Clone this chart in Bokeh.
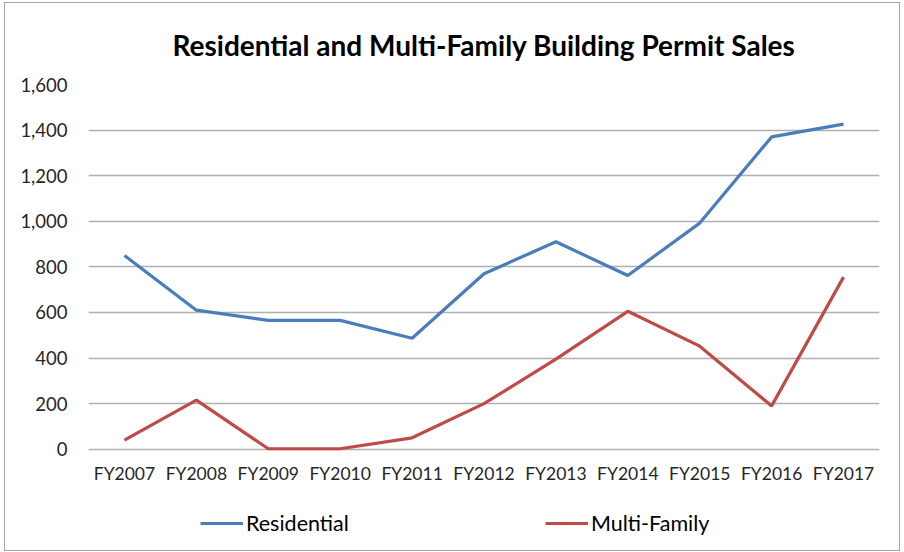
from bokeh.plotting import figure
from bokeh.models import Range1d, Legend, LegendItem, NumeralTickFormatter
from bokeh.embed import file_html
from bokeh.resources import INLINE

categories = ["FY2007", "FY2008", "FY2009", "FY2010", "FY2011", "FY2012",
              "FY2013", "FY2014", "FY2015", "FY2016", "FY2017"]
residential = [850, 610, 565, 565, 487, 770, 910, 762, 992, 1370, 1426]
multi_family = [40, 215, 2, 2, 50, 200, 395, 605, 452, 190, 755]
y_ticks = [0, 200, 400, 600, 800, 1000, 1200, 1400, 1600]

FONT = "Lato"

# the frame reaches down into the legend area; the value axis starts at 0
p = figure(x_range=categories, y_range=Range1d(-440, 1600),
           width=894, height=547, output_backend="svg", toolbar_location=None,
           min_border_left=83, min_border_right=22, min_border_top=80,
           min_border_bottom=3,
           title="Residential and Multi-Family Building Permit Sales")
p.styles = {"border": "1px solid #a6a6a6", "box-sizing": "content-box",
            "margin-left": "4px", "margin-top": "2px"}

p.title.text_font = FONT
p.title.text_font_size = "28px"
p.title.text_font_style = "bold"
p.title.text_color = "#000000"
p.title.align = "center"
p.title.standoff = 45

p.outline_line_color = None
p.xgrid.grid_line_color = None
p.ygrid.grid_line_color = "#b0b0b0"
p.ygrid.grid_line_width = 1.3
p.yaxis.ticker = y_ticks
p.yaxis.formatter = NumeralTickFormatter(format="0,0")

for ax in (p.xaxis, p.yaxis):
    ax.axis_line_color = None
    ax.major_tick_line_color = None
    ax.minor_tick_line_color = None
    ax.major_label_text_font = FONT
    ax.major_label_text_color = "#262626"
p.xaxis.major_label_text_font_size = "17.5px"
p.yaxis.major_label_text_font_size = "18.5px"
p.yaxis.major_label_standoff = 15
p.xaxis.major_label_standoff = -93

r1 = p.line(categories, residential, line_color="#4a7ebb", line_width=3.2)
r2 = p.line(categories, multi_family, line_color="#be4b48", line_width=3.2)

legend = Legend(items=[LegendItem(label="Residential", renderers=[r1]),
                       LegendItem(label="Multi-Family", renderers=[r2])],
                orientation="horizontal", location=(112, 13),
                glyph_width=43, label_standoff=3, label_width=150, spacing=149,
                label_text_font=FONT, label_text_font_size="21.5px",
                label_text_color="#000000", border_line_color=None,
                background_fill_alpha=0, margin=0, padding=0)
p.add_layout(legend, "center")

open("out.html", "w").write(file_html(p, INLINE))
